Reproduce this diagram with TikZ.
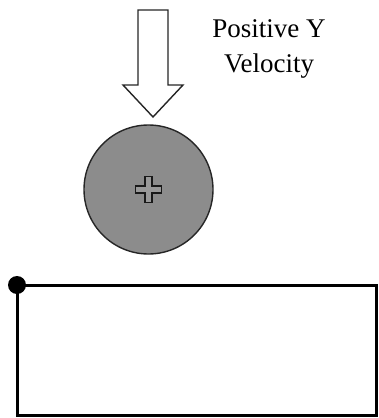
\documentclass[tikz,border=0pt]{standalone}
\usepackage{fontspec}
\setmainfont{Liberation Serif}
\begin{document}
\begin{tikzpicture}[x=1pt,y=-1pt,
  outl/.style={draw=black!85,line width=1.4pt},
  thick line/.style={draw=black,line width=3pt}]
\useasboundingbox (0,0) rectangle (378,418);
% arrow
\draw[outl,fill=white,line join=miter] (138,10) -- (168,10) -- (168,85) -- (183,85) -- (153,117) -- (123,85) -- (138,85) -- cycle;
\node[align=center,font=\fontsize{27}{35}\selectfont,inner sep=0] (lbl) at (269,49) {Positive Y\\Velocity};
% ball
\node[circle,outl,fill=black!45,minimum size=129pt,inner sep=0] (ball) at (148.5,189.5) {};
\draw[draw=black!90,line width=1.1pt,fill=black!40] (ball.center) ++(-3.5,-13) -- ++(7,0) -- ++(0,9.5) -- ++(9.5,0) -- ++(0,7) -- ++(-9.5,0) -- ++(0,9.5) -- ++(-7,0) -- ++(0,-9.5) -- ++(-9.5,0) -- ++(0,-7) -- ++(9.5,0) -- cycle;
% block
\coordinate (corner) at (17,285);
\draw[thick line] (corner) -- (376,285) -- (376,415) -- (17,415) -- cycle;
\fill[black] (corner) circle (9);
\end{tikzpicture}
\end{document}
